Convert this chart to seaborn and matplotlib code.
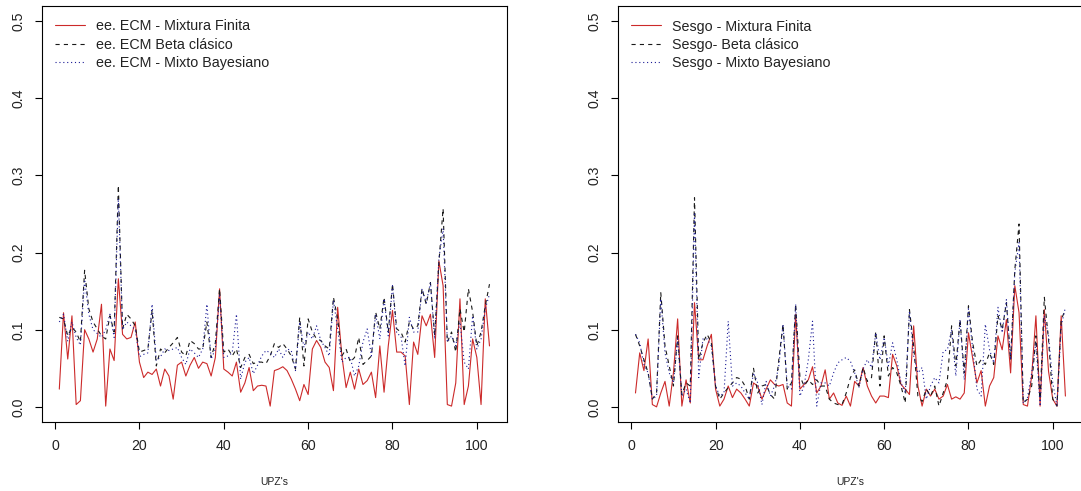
import numpy as np
import pandas as pd
import matplotlib
matplotlib.use("Agg")
import matplotlib.pyplot as plt
import seaborn as sns

# ---------------- data ----------------
upz = list(range(1, 104))

ecm_mixtura = [
    0.023, 0.122, 0.062, 0.118, 0.003, 0.008, 0.100, 0.088, 0.071, 0.088,
    0.133, 0.001, 0.075, 0.060, 0.166, 0.094, 0.088, 0.090, 0.110, 0.058,
    0.038, 0.045, 0.042, 0.049, 0.027, 0.049, 0.040, 0.010, 0.054, 0.058,
    0.040, 0.054, 0.064, 0.050, 0.058, 0.056, 0.040, 0.064, 0.153, 0.049,
    0.045, 0.040, 0.058, 0.019, 0.031, 0.051, 0.021, 0.027, 0.028, 0.027,
    0.001, 0.047, 0.049, 0.052, 0.047, 0.036, 0.023, 0.008, 0.029, 0.016,
    0.075, 0.086, 0.077, 0.058, 0.051, 0.021, 0.129, 0.066, 0.025, 0.045,
    0.023, 0.049, 0.029, 0.034, 0.045, 0.012, 0.079, 0.019, 0.079, 0.125,
    0.071, 0.071, 0.066, 0.003, 0.084, 0.068, 0.118, 0.105, 0.120, 0.064,
    0.189, 0.157, 0.003, 0.001, 0.031, 0.140, 0.003, 0.027, 0.088, 0.064,
    0.003, 0.140, 0.079]

ecm_beta = [
    0.116, 0.114, 0.092, 0.103, 0.097, 0.084, 0.177, 0.127, 0.110, 0.101,
    0.092, 0.088, 0.118, 0.097, 0.287, 0.101, 0.120, 0.114, 0.105, 0.071,
    0.073, 0.075, 0.125, 0.053, 0.075, 0.070, 0.077, 0.083, 0.090, 0.071,
    0.066, 0.086, 0.082, 0.075, 0.075, 0.110, 0.064, 0.083, 0.153, 0.071,
    0.075, 0.066, 0.075, 0.051, 0.064, 0.068, 0.056, 0.058, 0.058, 0.056,
    0.066, 0.082, 0.077, 0.082, 0.075, 0.066, 0.049, 0.116, 0.053, 0.114,
    0.097, 0.088, 0.086, 0.079, 0.075, 0.142, 0.114, 0.066, 0.075, 0.058,
    0.064, 0.090, 0.055, 0.060, 0.066, 0.123, 0.101, 0.142, 0.097, 0.159,
    0.101, 0.097, 0.084, 0.110, 0.101, 0.105, 0.153, 0.133, 0.161, 0.092,
    0.187, 0.257, 0.084, 0.097, 0.071, 0.127, 0.097, 0.153, 0.123, 0.079,
    0.097, 0.131, 0.159]

ecm_bayes = [
    0.110, 0.120, 0.085, 0.110, 0.090, 0.080, 0.165, 0.120, 0.100, 0.095,
    0.090, 0.100, 0.120, 0.090, 0.270, 0.100, 0.110, 0.105, 0.100, 0.065,
    0.068, 0.070, 0.133, 0.060, 0.065, 0.075, 0.073, 0.075, 0.077, 0.064,
    0.055, 0.075, 0.070, 0.064, 0.075, 0.133, 0.062, 0.075, 0.144, 0.064,
    0.066, 0.070, 0.120, 0.036, 0.058, 0.064, 0.043, 0.054, 0.066, 0.073,
    0.070, 0.064, 0.075, 0.064, 0.075, 0.073, 0.047, 0.110, 0.077, 0.097,
    0.088, 0.105, 0.086, 0.077, 0.066, 0.138, 0.101, 0.058, 0.064, 0.064,
    0.040, 0.053, 0.084, 0.101, 0.066, 0.120, 0.088, 0.140, 0.092, 0.157,
    0.095, 0.092, 0.053, 0.116, 0.097, 0.097, 0.153, 0.135, 0.161, 0.088,
    0.192, 0.231, 0.084, 0.092, 0.079, 0.110, 0.058, 0.049, 0.118, 0.075,
    0.088, 0.127, 0.146]

sesgo_mixtura = [
    0.018, 0.070, 0.047, 0.088, 0.003, 0.000, 0.018, 0.033, 0.001, 0.044,
    0.114, 0.001, 0.035, 0.005, 0.135, 0.061, 0.061, 0.079, 0.094, 0.023,
    0.001, 0.010, 0.027, 0.012, 0.023, 0.018, 0.010, 0.001, 0.031, 0.027,
    0.010, 0.023, 0.035, 0.029, 0.027, 0.029, 0.005, 0.001, 0.120, 0.023,
    0.029, 0.035, 0.052, 0.018, 0.027, 0.048, 0.010, 0.018, 0.005, 0.002,
    0.014, 0.001, 0.033, 0.027, 0.051, 0.027, 0.014, 0.005, 0.014, 0.014,
    0.012, 0.068, 0.053, 0.029, 0.023, 0.016, 0.105, 0.027, 0.001, 0.023,
    0.014, 0.023, 0.010, 0.014, 0.029, 0.010, 0.013, 0.010, 0.018, 0.096,
    0.063, 0.031, 0.047, 0.001, 0.027, 0.038, 0.092, 0.074, 0.113, 0.044,
    0.157, 0.122, 0.003, 0.001, 0.040, 0.118, 0.001, 0.126, 0.046, 0.010,
    0.001, 0.118, 0.014]

sesgo_beta = [
    0.094, 0.079, 0.061, 0.044, 0.010, 0.018, 0.148, 0.079, 0.053, 0.027,
    0.092, 0.016, 0.031, 0.027, 0.271, 0.061, 0.083, 0.094, 0.083, 0.027,
    0.010, 0.018, 0.025, 0.031, 0.038, 0.036, 0.027, 0.010, 0.050, 0.018,
    0.027, 0.029, 0.016, 0.010, 0.061, 0.107, 0.023, 0.031, 0.133, 0.040,
    0.027, 0.035, 0.029, 0.035, 0.027, 0.027, 0.010, 0.005, 0.003, 0.003,
    0.018, 0.038, 0.048, 0.027, 0.051, 0.033, 0.038, 0.098, 0.027, 0.092,
    0.040, 0.051, 0.044, 0.027, 0.005, 0.126, 0.079, 0.014, 0.007, 0.023,
    0.014, 0.027, 0.001, 0.018, 0.035, 0.105, 0.053, 0.113, 0.044, 0.131,
    0.083, 0.053, 0.061, 0.055, 0.070, 0.055, 0.118, 0.100, 0.135, 0.061,
    0.178, 0.237, 0.005, 0.010, 0.027, 0.092, 0.010, 0.142, 0.087, 0.010,
    0.001, 0.113, 0.126]

sesgo_bayes = [
    0.094, 0.083, 0.055, 0.044, 0.010, 0.014, 0.140, 0.070, 0.044, 0.031,
    0.088, 0.014, 0.023, 0.005, 0.252, 0.038, 0.088, 0.088, 0.079, 0.027,
    0.014, 0.018, 0.111, 0.027, 0.031, 0.027, 0.018, 0.010, 0.044, 0.031,
    0.003, 0.033, 0.014, 0.027, 0.053, 0.107, 0.027, 0.023, 0.133, 0.014,
    0.027, 0.061, 0.111, 0.001, 0.031, 0.031, 0.027, 0.044, 0.057, 0.061,
    0.064, 0.059, 0.044, 0.025, 0.049, 0.061, 0.051, 0.096, 0.061, 0.090,
    0.053, 0.083, 0.061, 0.031, 0.018, 0.124, 0.066, 0.044, 0.051, 0.010,
    0.027, 0.038, 0.031, 0.072, 0.074, 0.100, 0.040, 0.113, 0.035, 0.127,
    0.075, 0.023, 0.014, 0.107, 0.074, 0.057, 0.129, 0.096, 0.139, 0.061,
    0.174, 0.213, 0.005, 0.012, 0.044, 0.083, 0.001, 0.118, 0.092, 0.031,
    0.001, 0.105, 0.129]

left_labels = ["ee. ECM - Mixtura Finita", "ee. ECM Beta clásico", "ee. ECM - Mixto Bayesiano"]
right_labels = ["Sesgo - Mixtura Finita", "Sesgo- Beta clásico", "Sesgo - Mixto Bayesiano"]
x_label = "UPZ's"
x_ticks = [0, 20, 40, 60, 80, 100]
y_ticks = [0.0, 0.1, 0.2, 0.3, 0.4, 0.5]

# ---------------- style ----------------
sns.set_theme(style="white")
plt.rcParams["font.family"] = ["Liberation Sans", "DejaVu Sans"]
plt.rcParams["lines.scale_dashes"] = False

W, H = 1081, 491
fig = plt.figure(figsize=(W / 100, H / 100), dpi=100)
fig.patch.set_facecolor("white")

colors = ["#cc2a2a", "#1a1a1a", "#1c1c96"]
styles = ["-", (0, (3.0, 3.0)), (0, (0.8, 2.0))]
lw = 0.8


def px_axes(x0, x1, ytop, ybot):
    return fig.add_axes([x0 / W, (H - ybot) / H, (x1 - x0) / W, (ybot - ytop) / H])


panels = [
    (px_axes(42.1, 506.7, 5.6, 422.3), [ecm_mixtura, ecm_beta, ecm_bayes], left_labels, 55),
    (px_axes(618.3, 1082.6, 5.6, 422.3), [sesgo_mixtura, sesgo_beta, sesgo_bayes], right_labels, 631),
]

for ax, series, labels, legx in panels:
    ax.set_facecolor("white")
    for vals, col, ls, lab in zip(series, colors, styles, labels):
        df = pd.DataFrame({"upz": upz, "val": vals})
        sns.lineplot(data=df, x="upz", y="val", ax=ax, color=col, linestyle=ls,
                     linewidth=lw, errorbar=None, label=lab, legend=False)
    ax.set_xlim(-3.08, 107.08)
    ax.set_ylim(-0.02, 0.52)
    ax.set_xticks(x_ticks)
    ax.set_yticks(y_ticks)
    ax.set_xticklabels([str(t) for t in x_ticks])
    ax.set_yticklabels([f"{t:.1f}" for t in y_ticks])
    for sp in ax.spines.values():
        sp.set_visible(True)
        sp.set_color("black")
        sp.set_linewidth(0.8)
    ax.tick_params(axis="both", which="major", direction="out", length=5, width=0.8,
                   color="black", labelsize=10.2, labelcolor="#222222",
                   bottom=True, left=True, top=False, right=False)
    ax.tick_params(axis="x", pad=7)
    ax.tick_params(axis="y", pad=7, labelrotation=90)
    for t in ax.get_yticklabels():
        t.set_va("center")
    ax.set_ylabel("")
    ax.set_xlabel(x_label, fontsize=7.5, color="#222222")
    ax.xaxis.label.set_va("center")
    ax.xaxis.set_label_coords(0.5, -0.1425)
    ax.grid(False)

    handles = [plt.Line2D([], [], color=c, linestyle=s, linewidth=lw) for c, s in zip(colors, styles)]
    ax.legend(handles, labels, loc="upper left", frameon=False, fontsize=10.3,
              bbox_to_anchor=(legx / W, 1 - 19.5 / H), bbox_transform=fig.transFigure,
              borderpad=0, borderaxespad=0, handlelength=2.1, handletextpad=0.8,
              labelspacing=0.3, labelcolor="#222222")

fig.savefig("out.png", dpi=100, facecolor="white")
